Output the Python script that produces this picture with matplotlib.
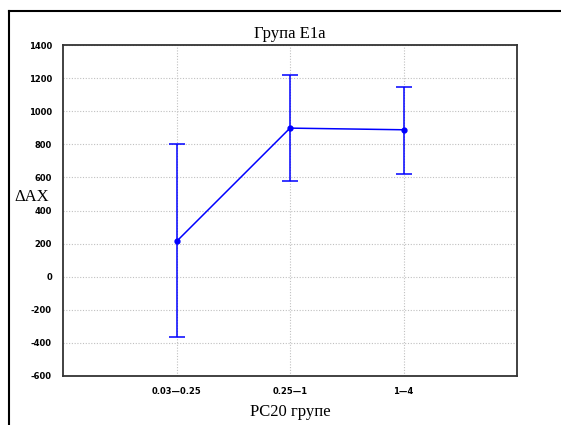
import matplotlib

matplotlib.use("Agg")
import matplotlib.pyplot as plt
from matplotlib.lines import Line2D

groups = ["0.03\u20140.25", "0.25\u20141", "1\u20144"]
means = [213, 898, 888]
upper = [802, 1216, 1144]
lower = [-367, 578, 622]
yticks = [-600, -400, -200, 0, 200, 400, 600, 800, 1000, 1200, 1400]

serif = ["Liberation Serif", "DejaVu Serif"]

fig = plt.figure(figsize=(5.61, 4.25), dpi=100)
ax = fig.add_axes([0.1123, 0.1153, 0.8093, 0.7787])

x = list(range(1, len(groups) + 1))
err = [[m - lo for m, lo in zip(means, lower)], [up - m for m, up in zip(means, upper)]]
ax.errorbar(x, means, yerr=err, color="#0000ff", lw=1.1, elinewidth=1.1,
            capsize=6, capthick=1.1, marker="o", ms=3.5)

ax.set_xlim(0, 4)
ax.set_ylim(-600, 1400)
ax.set_xticks(x)
ax.set_xticklabels(groups, fontsize=6, fontweight="bold")
ax.set_yticks(yticks)
ax.set_yticklabels([str(t) for t in yticks], fontsize=6, fontweight="bold")
ax.tick_params(length=0, pad=8)
ax.grid(color="#c0c0c0", ls=(0, (1, 1.5)), lw=0.8)
for s in ax.spines.values():
    s.set_linewidth(1.3)
    s.set_color("#333333")

ax.set_title("\u0413\u0440\u0443\u043f\u0430 E1a", family=serif, fontsize=12, pad=5)
ax.set_xlabel("PC20 \u0433\u0440\u0443\u043f\u0435", family=serif, fontsize=12, labelpad=6)
# y label sits just above the 400 tick label, as in the original
fig.text(0.026, 0.536, "\u0394AX", family=serif, fontsize=12, ha="left", va="center")

# outer frame
fig.add_artist(Line2D([9 / 561, 9 / 561], [0, 1 - 11 / 425], color="black", lw=1.5))
fig.add_artist(Line2D([9 / 561, 1], [1 - 11 / 425, 1 - 11 / 425], color="black", lw=1.5))

fig.savefig("out.png", dpi=100)
